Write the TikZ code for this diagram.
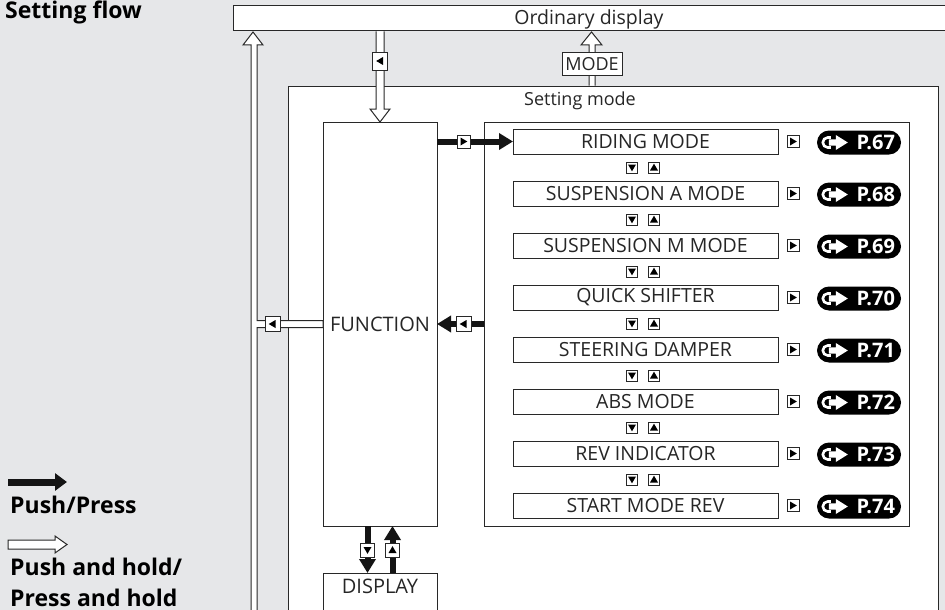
\documentclass[tikz,border=0pt]{standalone}
\usepackage{fontspec}
\setmainfont{Open Sans}
\usetikzlibrary{arrows.meta,calc}
\definecolor{bg}{RGB}{230,231,233}
\definecolor{ln}{RGB}{40,40,40}
\begin{document}
\begin{tikzpicture}[x=1pt,y=-1pt,line join=miter,
  box/.style={draw=ln, line width=1pt, fill=white, inner sep=0pt, outer sep=0pt},
  txt/.style={inner sep=0pt, font=\fontsize{20}{22}\selectfont, text=black!85},
  item/.style={box, minimum width=265pt, minimum height=25pt, font=\fontsize{19.5}{22}\selectfont, text=black!85},
  hollow/.style={draw=ln, line width=1pt, fill=white},
  blk/.style={draw=black!92, line width=6pt, -{Triangle[length=14pt,width=16pt]}},
  btn/.style={draw=ln, line width=0.9pt, fill=white, inner sep=0pt, minimum size=#1},
  btnR/.style={btn=#1, path picture={\fill[black, shift={(path picture bounding box.center)}] (-3pt,-4pt) -- (-3pt,4pt) -- (3.8pt,0pt) -- cycle;}},
  btnL/.style={btn=#1, path picture={\fill[black, shift={(path picture bounding box.center)}] (3pt,-4pt) -- (3pt,4pt) -- (-3.8pt,0pt) -- cycle;}},
  btnU/.style={btn=#1, path picture={\fill[black, shift={(path picture bounding box.center)}] (-4pt,-3pt) -- (4pt,-3pt) -- (0pt,3.8pt) -- cycle;}},
  btnD/.style={btn=#1, path picture={\fill[black, shift={(path picture bounding box.center)}] (-4pt,3pt) -- (4pt,3pt) -- (0pt,-3.8pt) -- cycle;}},
  pill/.style={fill=black, rounded corners=12pt, minimum width=84pt, minimum height=24pt, inner sep=0pt},
  pg/.style={inner sep=0pt, text=white, font=\fontsize{20}{22}\selectfont\bfseries},
  lgd/.style={inner sep=0pt, text=black, font=\fontsize{23}{26}\selectfont\bfseries}
]
% background / page
\fill[bg] (0,0) rectangle (945,610);
\useasboundingbox (0,0) rectangle (945,610);

% title
\node[anchor=base west, inner sep=0pt, font=\fontsize{23}{26}\selectfont\bfseries] (title) at (5,19) {Setting flow};

% main boxes
\node[box, minimum width=722pt, minimum height=25pt] (od) at (594,18.5) {};
\node[txt, font=\fontsize{19.5}{22}\selectfont] (odt) at (589,19) {Ordinary display};
\node[box, minimum width=650pt, minimum height=540pt, anchor=north west] (sm) at (288,86) {};
\node[txt, font=\fontsize{18}{20}\selectfont] (smt) at (580,101) {Setting mode};
\node[box, minimum width=114pt, minimum height=404pt, anchor=north west, font=\fontsize{20}{22}\selectfont, text=black!85] (func) at (323,122) {FUNCTION};
\node[box, minimum width=114pt, minimum height=50pt, anchor=north west] (disp) at (323,573) {};
\node[txt] (dispt) at (380,586) {DISPLAY};
\node[box, minimum width=425pt, minimum height=404pt, anchor=north west] (list) at (484,122) {};

% items
\foreach \k/\t/\p in {1/RIDING MODE/67, 2/SUSPENSION A MODE/68, 3/SUSPENSION M MODE/69, 4/QUICK SHIFTER/70, 5/STEERING DAMPER/71, 6/ABS MODE/72, 7/REV INDICATOR/73, 8/START MODE REV/74} {
  \node[item] (it\k) at (645.5,{141.5+52*(\k-1)}) {\t};
  \node[btnR=12pt] (br\k) at (793,{141.5+52*(\k-1)}) {};
  \node[pill] (pl\k) at (859,{142.5+52*(\k-1)}) {};
  \node[pg, anchor=east] (pt\k) at ($(pl\k.east)+(-6,0)$) {P.\p};
  \begin{scope}[shift={(pl\k.west)}]
    \draw[white, line width=2.6pt] (14,-5) -- (11,-5) arc(270:90:5) -- (14,5);
    \fill[white] (12,-3.2) -- (19,-3.2) -- (19,-7.5) -- (31,0) -- (19,7.5) -- (19,3.2) -- (12,3.2) -- cycle;
  \end{scope}
}
\foreach \k in {1,...,7} {
  \node[btnD=11pt] (dn\k) at (632,{167.5+52*(\k-1)}) {};
  \node[btnU=11pt] (up\k) at (654,{167.5+52*(\k-1)}) {};
}

% hollow arrows
\draw[hollow] (251,615) -- (251,45) -- (243,45) -- (253,32) -- (263,45) -- (257,45) -- (257,320.5) -- (323,320.5) -- (323,327.5) -- (257,327.5) -- (257,615);
\draw[hollow] (376,31.5) -- (376,109) -- (370,109) -- (380,122) -- (390,109) -- (384,109) -- (384,31.5);
\draw[hollow] (589,85.5) -- (589,45) -- (581,45) -- (591.5,32) -- (602,45) -- (595,45) -- (595,85.5);
\node[box, minimum width=60pt, minimum height=23pt, font=\fontsize{18}{20}\selectfont, text=black!85] (mode) at (592,64.5) {MODE};

% black arrows
\draw[blk] (func.east |- it1.west) -- (it1.west);
\draw[blk] (list.west) -- (func.east);
\draw[blk] ($(func.south)+(-12.5,0)$) -- ($(disp.north)+(-12.5,0)$);
\draw[blk] ($(disp.north)+(12.5,0)$) -- ($(func.south)+(12.5,0)$);

% buttons on connectors
\node[btnL=15pt, minimum height=18pt] (b1) at (380,61) {};
\node[btnL=15pt] (b2) at (272.5,324) {};
\node[btnR=13pt] (b3) at (463.5,141.5) {};
\node[btnL=15pt] (b4) at (463.5,324) {};
\node[btnD=14pt] (b5) at (367.5,550) {};
\node[btnU=14pt] (b6) at (392.5,550) {};

% legend
\coordinate (la1) at (8,482);
\coordinate (la2) at (67,482);
\draw[blk, line width=7pt, -{Triangle[length=12pt,width=17pt]}] (la1) -- (la2);
\node[lgd, anchor=base west] (lg1) at (10,513) {Push/Press};
\draw[hollow] (8,540) -- (55,540) -- (55,536) -- (67,544.5) -- (55,553) -- (55,549) -- (8,549) -- cycle;
\node[lgd, anchor=base west] (lg2) at (10,575) {Push and hold/};
\node[lgd, anchor=base west] (lg3) at (10,606) {Press and hold};
\end{tikzpicture}
\end{document}
